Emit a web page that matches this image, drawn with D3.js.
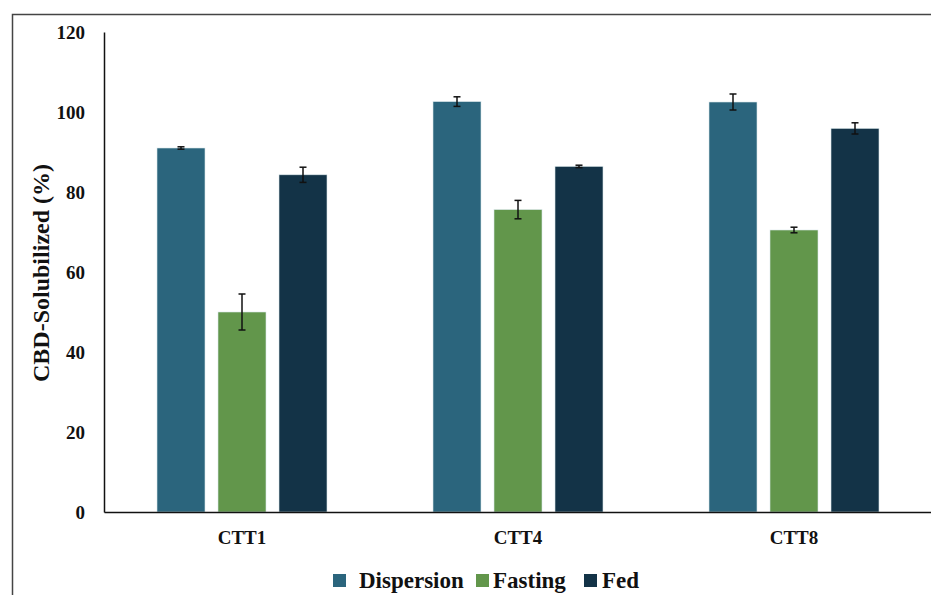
<!DOCTYPE html>
<html>
<head>
<meta charset="utf-8">
<script src="https://cdn.jsdelivr.net/npm/d3@7"></script>
<style>
  html, body { margin: 0; padding: 0; background: #fff; }
  svg { display: block; }
</style>
</head>
<body>
<svg id="chart" width="931" height="595"></svg>
<script>
// Formulations on the x axis
const categories = ["CTT1", "CTT4", "CTT8"];
// Media (series)
const seriesNames = ["Dispersion", "Fasting", "Fed"];
const seriesColors = ["#2b657d", "#62964b", "#133347"];
// CBD solubilized (%) per formulation, per medium
const dispersion = [91.0, 102.6, 102.5];
const fasting = [50.0, 75.6, 70.5];
const fed = [84.3, 86.4, 95.9];
// Standard deviations
const dispersionErr = [0.3, 1.2, 2.0];
const fastingErr = [4.5, 2.3, 0.7];
const fedErr = [1.9, 0.3, 1.4];
// Y axis ticks
const yTicks = [0, 20, 40, 60, 80, 100, 120];

const values = [dispersion, fasting, fed];
const errors = [dispersionErr, fastingErr, fedErr];
const FONT = "'Liberation Serif', 'Times New Roman', serif";

const svg = d3.select("#chart");

// outer frame (left and top edges)
svg.append("path")
  .attr("d", "M12.5,595 V14.5 H931")
  .attr("fill", "none")
  .attr("stroke", "#444")
  .attr("stroke-width", 1.5);

const x0 = d3.scaleBand().domain(categories).range([104, 932]).paddingInner(0).paddingOuter(0);
const y = d3.scaleLinear().domain([0, 120]).range([512, 32]);

// bar width and gap within a group
const barW = 48, gap = 13;
const x1 = d3.scaleBand().domain(seriesNames)
  .range([-(barW * 1.5 + gap), barW * 1.5 + gap])
  .paddingInner(gap / (barW + gap)).paddingOuter(0);

const rows = [];
categories.forEach((c, ci) => {
  seriesNames.forEach((s, si) => {
    rows.push({ cat: c, ser: s, si, v: values[si][ci], e: errors[si][ci] });
  });
});

const g = svg.append("g");
g.selectAll("rect.bar").data(rows).enter().append("rect")
  .attr("class", "bar")
  .attr("x", d => x0(d.cat) + x0.bandwidth() / 2 + x1(d.ser))
  .attr("width", x1.bandwidth())
  .attr("y", d => y(d.v))
  .attr("height", d => y(0) - y(d.v))
  .attr("fill", d => seriesColors[d.si])
  .attr("stroke", "#d9e6ea")
  .attr("stroke-width", 0.6);

// error bars
const eb = g.selectAll("g.err").data(rows).enter().append("g").attr("class", "err")
  .attr("transform", d => `translate(${x0(d.cat) + x0.bandwidth() / 2 + x1(d.ser) + x1.bandwidth() / 2},0)`);
eb.append("line").attr("x1", 0).attr("x2", 0)
  .attr("y1", d => y(d.v + d.e)).attr("y2", d => y(d.v - d.e))
  .attr("stroke", "#111").attr("stroke-width", 1.5);
eb.append("line").attr("x1", -3.5).attr("x2", 3.5)
  .attr("y1", d => y(d.v + d.e)).attr("y2", d => y(d.v + d.e))
  .attr("stroke", "#111").attr("stroke-width", 1.5);
eb.append("line").attr("x1", -3.5).attr("x2", 3.5)
  .attr("y1", d => y(d.v - d.e)).attr("y2", d => y(d.v - d.e))
  .attr("stroke", "#111").attr("stroke-width", 1.5);

// y axis
const yAxis = svg.append("g").attr("transform", "translate(104,0)")
  .call(d3.axisLeft(y).tickValues(yTicks).tickSize(0).tickPadding(19));
yAxis.select(".domain").attr("stroke", "#111").attr("stroke-width", 1.5);
yAxis.selectAll("text").attr("font-size", 19).attr("font-family", FONT)
  .attr("font-weight", "bold").attr("fill", "#111");

// x axis
const xAxis = svg.append("g").attr("transform", "translate(0,512)")
  .call(d3.axisBottom(x0).tickSize(0).tickPadding(19));
xAxis.select(".domain").attr("stroke", "#111").attr("stroke-width", 1.5);
xAxis.selectAll("text").attr("font-size", 19).attr("font-family", FONT)
  .attr("font-weight", "bold").attr("fill", "#111");

// y axis title
svg.append("text")
  .attr("transform", "translate(49,273) rotate(-90)")
  .attr("text-anchor", "middle")
  .attr("font-family", FONT)
  .attr("font-weight", "bold")
  .attr("font-size", 24)
  .attr("fill", "#111")
  .text("CBD-Solubilized (%)");

// legend
const legendX = [333, 476, 584];
const textOffset = [26, 17, 18];
const lg = svg.append("g").selectAll("g").data(seriesNames).enter().append("g")
  .attr("transform", (d, i) => `translate(${legendX[i]},574)`);
lg.append("rect").attr("width", 13).attr("height", 13)
  .attr("fill", (d, i) => seriesColors[i]);
lg.append("text").attr("x", (d, i) => textOffset[i]).attr("y", 14)
  .attr("font-family", FONT)
  .attr("font-weight", "bold")
  .attr("font-size", 23)
  .attr("fill", "#111")
  .text(d => d);
</script>
</body>
</html>
